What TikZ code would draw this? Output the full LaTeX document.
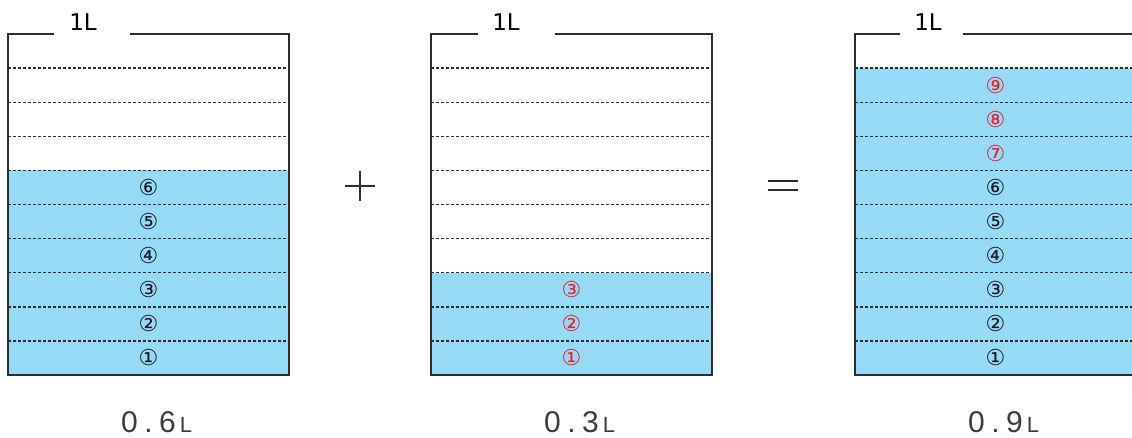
\documentclass[tikz,border=0pt]{standalone}
\usepackage{fontspec}
\newfontfamily\dv{DejaVu Sans}
\newfontfamily\lib{Liberation Sans}
\definecolor{water}{RGB}{150,218,245}
\definecolor{edge}{RGB}{45,45,45}
\definecolor{numred}{RGB}{235,30,45}
\definecolor{numblk}{RGB}{25,25,35}
\definecolor{labgray}{RGB}{60,60,60}
\tikzset{
  wall/.style={draw=edge, line width=1.9pt, line join=miter},
  layer/.style={draw=edge, dash pattern=on 3.2pt off 1.8pt, line width=1.4pt},
  titletext/.style={font=\dv\fontsize{23}{23}\selectfont, text=black, inner sep=0pt},
  numtext/.style={font=\dv\fontsize{22}{22}\selectfont, inner sep=0pt},
  voltext/.style={font=\lib\fontsize{30}{30}\selectfont, text=labgray, inner sep=0pt, anchor=base},
  optext/.style={draw=edge, line width=1.6pt}
}
\begin{document}
\begin{tikzpicture}[x=1pt,y=-1pt]
\useasboundingbox (0,0) rectangle (1132,437);
\clip (0,0) rectangle (1132,437);
\foreach \L/\n/\r/\ga/\gb/\tx/\id/\v in {8/6/7/46/122/75/a/6, 431/3/1/47/124/75/b/3, 855/9/7/45/108/73/c/9}{
  \fill[water] (\L,{375-\n*34.1}) rectangle ({\L+281},375);
  \foreach \k in {1,...,9}{
    \draw[layer] (\L,{375-\k*34.1}) -- ({\L+281},{375-\k*34.1});
  }
  \draw[wall] ({\L+\ga},34) -- (\L,34) -- (\L,375) -- ({\L+281},375) -- ({\L+281},34) -- ({\L+\gb},34);
  \node[titletext] (t\id) at ({\L+\tx},22) {1L};
  \foreach \k in {1,...,\n}{
    \ifnum\k<\r
      \node[numtext, text=numblk] (n\id\k) at ({\L+140.5},{375-(\k-0.5)*34.1}) {\char\numexpr"245F+\k\relax};
    \else
      \node[numtext, text=numred] (n\id\k) at ({\L+140.5},{375-(\k-0.5)*34.1}) {\char\numexpr"245F+\k\relax};
    \fi
  }
  \node[voltext] (v\id) at ({\L+149},432) {\makebox[20pt]{0}\makebox[18pt]{.}\makebox[20pt]{\v}\makebox[17pt]{\fontsize{22}{22}\selectfont L}};
}
% plus sign
\coordinate (p1) at (345,186); \coordinate (p2) at (375,186);
\coordinate (p3) at (360,171); \coordinate (p4) at (360,201);
\draw[optext] (p1) -- (p2);
\draw[optext] (p3) -- (p4);
% equals sign
\coordinate (e1) at (768,181); \coordinate (e2) at (798,181);
\coordinate (e3) at (768,190); \coordinate (e4) at (798,190);
\draw[optext] (e1) -- (e2);
\draw[optext] (e3) -- (e4);
\end{tikzpicture}
\end{document}
